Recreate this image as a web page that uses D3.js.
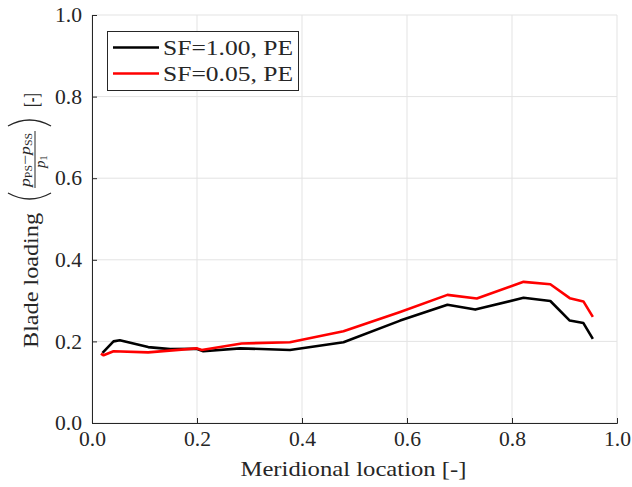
<!DOCTYPE html>
<html>
<head>
<meta charset="utf-8">
<script src="https://cdn.jsdelivr.net/npm/d3@7"></script>
<style>
  body { margin: 0; background: #fff; }
  svg text { font-family: "Liberation Serif", "Times New Roman", serif; fill: #262626; }
</style>
</head>
<body>
<div id="chart"></div>
<script>
// values
const seriesNames = ["SF=1.00, PE", "SF=0.05, PE"];
const seriesColors = ["#000000", "#ff0000"];

const xBlack = [0.020, 0.041, 0.053, 0.107, 0.149, 0.199, 0.212, 0.282, 0.377, 0.479, 0.587, 0.677, 0.730, 0.822, 0.873, 0.910, 0.936, 0.954];
const yBlack = [0.172, 0.200, 0.203, 0.186, 0.181, 0.182, 0.176, 0.183, 0.179, 0.198, 0.251, 0.290, 0.278, 0.307, 0.299, 0.251, 0.245, 0.206];

const xRed = [0.017, 0.022, 0.041, 0.107, 0.199, 0.209, 0.285, 0.377, 0.479, 0.587, 0.677, 0.733, 0.822, 0.873, 0.910, 0.936, 0.954];
const yRed = [0.170, 0.166, 0.176, 0.173, 0.183, 0.179, 0.195, 0.198, 0.225, 0.272, 0.314, 0.305, 0.346, 0.340, 0.306, 0.298, 0.260];

const xTicks = [0, 0.2, 0.4, 0.6, 0.8, 1.0];
const yTicks = [0, 0.2, 0.4, 0.6, 0.8, 1.0];

const W = 632, H = 487;
const margin = {left: 92, right: 15, top: 15, bottom: 64};

const svg = d3.select("#chart").append("svg")
  .attr("width", W).attr("height", H);

const x = d3.scaleLinear().domain([0, 1]).range([margin.left, W - margin.right]);
const y = d3.scaleLinear().domain([0, 1]).range([H - margin.bottom, margin.top]);

// grid
svg.append("g").selectAll("line").data(xTicks).join("line")
  .attr("x1", d => x(d)).attr("x2", d => x(d))
  .attr("y1", y(0)).attr("y2", y(1))
  .attr("stroke", "#e3e3e3").attr("stroke-width", 1);
svg.append("g").selectAll("line").data(yTicks).join("line")
  .attr("x1", x(0)).attr("x2", x(1))
  .attr("y1", d => y(d)).attr("y2", d => y(d))
  .attr("stroke", "#e3e3e3").attr("stroke-width", 1);

// axes
const xAxis = svg.append("g")
  .attr("transform", `translate(0,${y(0)})`)
  .call(d3.axisBottom(x).tickValues(xTicks).tickFormat(d3.format(".1f")).tickSize(-5).tickPadding(8));
const yAxis = svg.append("g")
  .attr("transform", `translate(${x(0)},0)`)
  .call(d3.axisLeft(y).tickValues(yTicks).tickFormat(d3.format(".1f")).tickSize(-5).tickPadding(10));
[xAxis, yAxis].forEach(a => {
  a.select(".domain").attr("stroke", "#262626");
  a.selectAll(".tick line").attr("stroke", "#262626");
  a.selectAll("text").attr("font-size", 21).attr("font-family", "Liberation Serif").attr("fill", "#262626")
    .attr("textLength", 27).attr("lengthAdjust", "spacingAndGlyphs");
});

// lines
const line = d3.line().x(d => x(d[0])).y(d => y(d[1]));
const data = [d3.zip(xBlack, yBlack), d3.zip(xRed, yRed)];
svg.append("g").selectAll("path").data(data).join("path")
  .attr("d", line)
  .attr("fill", "none")
  .attr("stroke", (d, i) => seriesColors[i])
  .attr("stroke-width", 2.6)
  .attr("stroke-linejoin", "round");

// x label
svg.append("text")
  .attr("x", (x(0) + x(1)) / 2 - 1).attr("y", 476)
  .attr("text-anchor", "middle").attr("font-size", 22)
  .attr("textLength", 226).attr("lengthAdjust", "spacingAndGlyphs")
  .text("Meridional location [-]");

// y label (rotated), local x = -screen y, local y = screen x - 38
const yl = svg.append("g").attr("transform", "translate(38,0) rotate(-90)");
yl.append("text").attr("x", -348).attr("y", 0)
  .attr("font-size", 22).attr("textLength", 135).attr("lengthAdjust", "spacingAndGlyphs")
  .text("Blade loading");
// parentheses
yl.append("path").attr("d", "M-193,-30 Q-205,-8.5 -193,13").attr("fill", "none").attr("stroke", "#262626").attr("stroke-width", 1.3);
yl.append("path").attr("d", "M-126,-30 Q-114,-8.5 -126,13").attr("fill", "none").attr("stroke", "#262626").attr("stroke-width", 1.3);
// fraction
const num = yl.append("text").attr("x", -187).attr("y", -8).attr("font-size", 15)
  .attr("textLength", 54).attr("lengthAdjust", "spacingAndGlyphs");
num.append("tspan").attr("font-style", "italic").text("p");
num.append("tspan").attr("font-size", 10).attr("dy", 2).text("PS");
num.append("tspan").attr("dy", -2).text("\u2212");
num.append("tspan").attr("font-style", "italic").text("p");
num.append("tspan").attr("font-size", 10).attr("dy", 2).text("SS");
yl.append("line").attr("x1", -188).attr("x2", -131).attr("y1", -3).attr("y2", -3)
  .attr("stroke", "#262626").attr("stroke-width", 1);
const den = yl.append("text").attr("x", -168).attr("y", 7).attr("font-size", 15);
den.append("tspan").attr("font-style", "italic").text("p");
den.append("tspan").attr("font-size", 10).attr("dy", 2).text("1");
yl.append("text").attr("x", -107).attr("y", 0)
  .attr("font-size", 22).attr("textLength", 14).attr("lengthAdjust", "spacingAndGlyphs")
  .text("[-]");

// legend
const lg = svg.append("g");
lg.append("rect").attr("x", 107.5).attr("y", 31.5).attr("width", 191).attr("height", 59)
  .attr("fill", "#fff").attr("stroke", "#262626").attr("stroke-width", 1);
seriesNames.forEach((name, i) => {
  const cy = 47.5 + i * 26;
  lg.append("line").attr("x1", 113).attr("x2", 159).attr("y1", cy).attr("y2", cy)
    .attr("stroke", seriesColors[i]).attr("stroke-width", 2.6);
  lg.append("text").attr("x", 163).attr("y", cy + 7).attr("font-size", 21)
    .attr("textLength", 130).attr("lengthAdjust", "spacingAndGlyphs")
    .attr("fill", "#000").text(name);
});
</script>
</body>
</html>
